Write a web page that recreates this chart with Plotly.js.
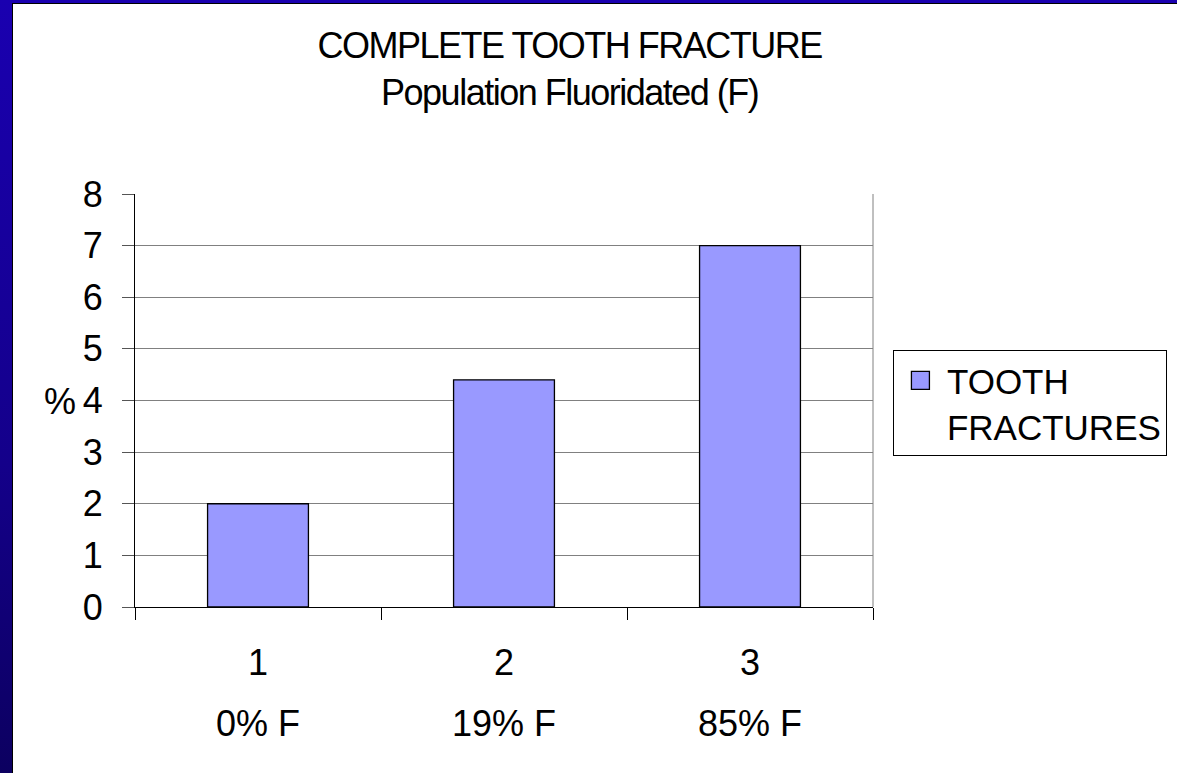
<!DOCTYPE html>
<html><head><meta charset="utf-8">
<script src="https://cdn.plot.ly/plotly-3.0.1.min.js"></script>
<style>
html,body{margin:0;padding:0;width:1177px;height:773px;overflow:hidden;
background:linear-gradient(to bottom,#1a00b0 0%,#14008a 60%,#0c0060 100%);}
#frame{position:absolute;left:12px;top:3px;width:1165px;height:770px;background:#000;}
#chart{position:absolute;left:13px;top:4px;width:1164px;height:769px;background:#fff;}
#chart .gtitle{letter-spacing:-1.5px;}
</style></head><body>
<div id="frame"></div>
<div id="chart"></div>
<script>
const categories = ["1", "2", "3"];
const fluorideLabels = ["0% F", "19% F", "85% F"];
const fractures = [2.0, 4.4, 7.0];
const seriesName = "TOOTH<br>FRACTURES";

const font = "Liberation Sans, Arial, sans-serif";

const trace = {
  type: "bar", x: categories, y: fractures, name: seriesName,
  marker: {color: "#9999ff", line: {color: "#000", width: 1.3}},
  width: 0.41, showlegend: true
};

const annotations = fluorideLabels.map((t, i) => ({
  text: t, x: i, xref: "x", y: -0.283, yref: "paper",
  showarrow: false, yanchor: "middle", font: {family: font, size: 36, color: "#000"}
}));
annotations.push({text: "%", x: -0.0772, xref: "paper", xanchor: "right", y: 0.497, yref: "paper",
  yanchor: "middle", showarrow: false, font: {family: font, size: 36, color: "#000"}});

const layout = {
  width: 1164, height: 769,
  margin: {l: 122, r: 304, t: 190, b: 166, autoexpand: false},
  paper_bgcolor: "#fff", plot_bgcolor: "#fff",
  font: {family: font, color: "#000"},
  title: {text: "COMPLETE TOOTH FRACTURE<br>Population Fluoridated (F)",
    x: 0.589, xref: "paper", xanchor: "center", y: 0.9298, yref: "container", yanchor: "middle",
    font: {family: font, size: 36, color: "#000"}},
  xaxis: {type: "category", tickson: "boundaries", ticks: "outside", ticklen: 12,
    tickcolor: "#000", showline: true, linecolor: "#000", linewidth: 1,
    showgrid: false, tickfont: {family: font, size: 36}, ticklabelstandoff: 24,
    range: [-0.5, 2.5], fixedrange: true},
  yaxis: {range: [0, 8], dtick: 1, ticks: "outside", ticklen: 12, tickcolor: "#555",
    showline: true, linecolor: "#000", linewidth: 1, showgrid: true, gridcolor: "#808080",
    gridwidth: 1, zeroline: false, tickfont: {family: font, size: 36}, ticklabelstandoff: 12},
  shapes: [{type: "line", xref: "paper", yref: "paper", x0: 1, x1: 1, y0: 0, y1: 1,
    line: {color: "#808080", width: 1}}],
  legend: {x: 1.027, y: 0.622, xanchor: "left", yanchor: "top", itemwidth: 43,
    entrywidth: 300, entrywidthmode: "pixels",
    bordercolor: "#000", borderwidth: 1, bgcolor: "#fff", valign: "top",
    font: {family: font, size: 35, color: "#000"}},
  annotations: annotations, bargap: 0.59
};
Plotly.newPlot("chart", [trace], layout, {displayModeBar: false, staticPlot: true}).then(gd => {
  gd.querySelectorAll(".legendpoints path").forEach(p => p.setAttribute("d", "M9,9H-9V-9H9Z"));
});
</script></body></html>
